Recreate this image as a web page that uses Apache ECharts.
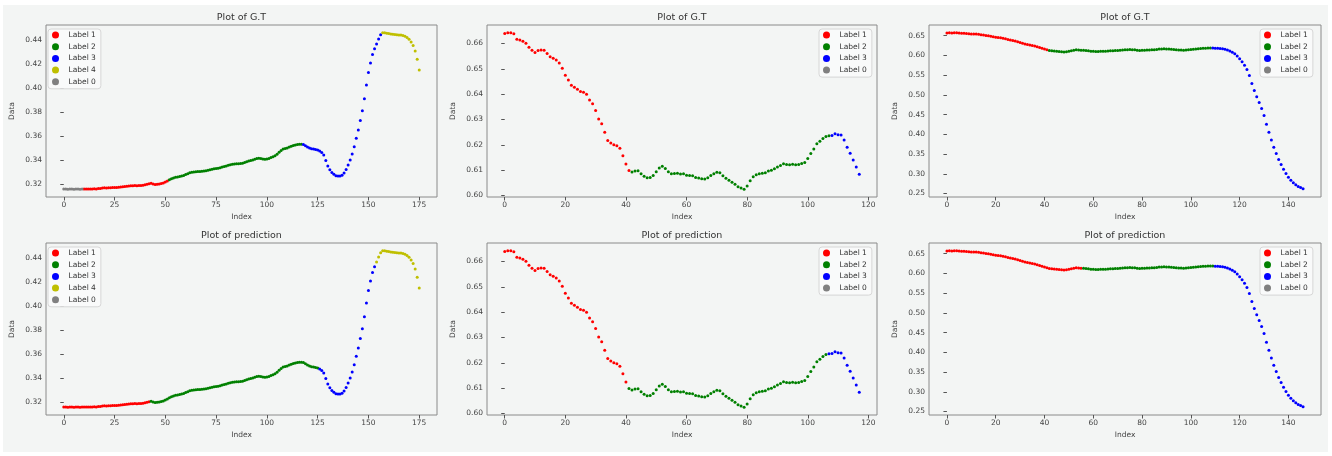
<!DOCTYPE html>
<html>
<head>
<meta charset="utf-8">
<script src="https://cdn.jsdelivr.net/npm/echarts@6/dist/echarts.min.js"></script>
<style>
html, body { margin: 0; padding: 0; background: #fff; }
#bg { position: absolute; left: 3px; top: 5px; width: 1325px; height: 447px; background: #f3f5f4; }
#main { position: absolute; left: 0; top: 0; width: 1332px; height: 456px; }
</style>
</head>
<body>
<div id="bg"></div>
<div id="main"></div>
<script>
// data of the three signals (same signal in G.T and prediction rows)
var valuesA = [
    0.3156, 0.3156, 0.3155, 0.3156, 0.3156, 0.3155, 0.3156, 0.3156, 0.3155, 0.3156,
    0.3156, 0.3156, 0.3157, 0.3156, 0.3157, 0.3158, 0.3157, 0.3160, 0.3162, 0.3165,
    0.3167, 0.3166, 0.3168, 0.3167, 0.3169, 0.3170, 0.3169, 0.3172, 0.3174, 0.3176,
    0.3177, 0.3179, 0.3181, 0.3183, 0.3184, 0.3186, 0.3185, 0.3186, 0.3187, 0.3189,
    0.3192, 0.3196, 0.3201, 0.3204, 0.3199, 0.3194, 0.3196, 0.3199, 0.3203, 0.3208,
    0.3215, 0.3224, 0.3235, 0.3242, 0.3248, 0.3254, 0.3258, 0.3262, 0.3266, 0.3270,
    0.3278, 0.3285, 0.3292, 0.3296, 0.3299, 0.3301, 0.3302, 0.3304, 0.3305, 0.3307,
    0.3310, 0.3314, 0.3318, 0.3322, 0.3325, 0.3328, 0.3331, 0.3335, 0.3340, 0.3345,
    0.3350, 0.3355, 0.3359, 0.3363, 0.3366, 0.3367, 0.3368, 0.3369, 0.3372, 0.3378,
    0.3385, 0.3390, 0.3395, 0.3400, 0.3405, 0.3411, 0.3414, 0.3412, 0.3408, 0.3406,
    0.3407, 0.3412, 0.3420, 0.3427, 0.3434, 0.3448, 0.3463, 0.3478, 0.3490, 0.3496,
    0.3500, 0.3508, 0.3514, 0.3520, 0.3525, 0.3528, 0.3530, 0.3530, 0.3528, 0.3518,
    0.3508, 0.3500, 0.3494, 0.3490, 0.3487, 0.3482, 0.3474, 0.3462, 0.3440, 0.3395,
    0.3350, 0.3318, 0.3295, 0.3280, 0.3268, 0.3265, 0.3266, 0.3272, 0.3290, 0.3320,
    0.3358, 0.3400, 0.3450, 0.3510, 0.3580, 0.3650, 0.3730, 0.3810, 0.3910, 0.4025,
    0.4130, 0.4210, 0.4280, 0.4328, 0.4368, 0.4410, 0.4445, 0.4462, 0.4462, 0.4458,
    0.4455, 0.4452, 0.4450, 0.4447, 0.4445, 0.4444, 0.4443, 0.4440, 0.4433, 0.4422,
    0.4408, 0.4385, 0.4355, 0.4310, 0.4240, 0.4152
];
var valuesB = [
    0.6639, 0.6642, 0.6642, 0.6638, 0.6617, 0.6614, 0.6609, 0.6601, 0.6585, 0.6573,
    0.6564, 0.6572, 0.6574, 0.6573, 0.6560, 0.6548, 0.6542, 0.6535, 0.6523, 0.6502,
    0.6475, 0.6456, 0.6435, 0.6427, 0.6419, 0.6410, 0.6408, 0.6400, 0.6377, 0.6362,
    0.6335, 0.6302, 0.6283, 0.6250, 0.6217, 0.6207, 0.6200, 0.6196, 0.6186, 0.6157,
    0.6124, 0.6099, 0.6093, 0.6097, 0.6098, 0.6086, 0.6076, 0.6070, 0.6071, 0.6079,
    0.6094, 0.6108, 0.6115, 0.6107, 0.6094, 0.6086, 0.6087, 0.6088, 0.6085, 0.6086,
    0.6080, 0.6079, 0.6078, 0.6071, 0.6069, 0.6066, 0.6065, 0.6070, 0.6079, 0.6086,
    0.6092, 0.6090, 0.6078, 0.6068, 0.6060, 0.6052, 0.6044, 0.6034, 0.6030, 0.6025,
    0.6037, 0.6058, 0.6074, 0.6082, 0.6086, 0.6088, 0.6090, 0.6097, 0.6100, 0.6106,
    0.6112, 0.6118, 0.6125, 0.6122, 0.6121, 0.6123, 0.6121, 0.6122, 0.6126, 0.6130,
    0.6146, 0.6166, 0.6183, 0.6204, 0.6214, 0.6225, 0.6233, 0.6236, 0.6237, 0.6244,
    0.6240, 0.6239, 0.6219, 0.6190, 0.6167, 0.6140, 0.6112, 0.6084
];
var valuesC = [
    0.6570, 0.6571, 0.6570, 0.6572, 0.6571, 0.6568, 0.6562, 0.6558, 0.6553, 0.6548,
    0.6545, 0.6542, 0.6540, 0.6533, 0.6525, 0.6517, 0.6505, 0.6495, 0.6482, 0.6470,
    0.6462, 0.6455, 0.6445, 0.6432, 0.6420, 0.6405, 0.6392, 0.6380, 0.6362, 0.6345,
    0.6325, 0.6305, 0.6290, 0.6278, 0.6265, 0.6250, 0.6235, 0.6220, 0.6200, 0.6180,
    0.6160, 0.6140, 0.6125, 0.6118, 0.6112, 0.6105, 0.6098, 0.6092, 0.6088, 0.6090,
    0.6102, 0.6118, 0.6132, 0.6140, 0.6138, 0.6132, 0.6128, 0.6122, 0.6115, 0.6108,
    0.6102, 0.6100, 0.6100, 0.6102, 0.6105, 0.6108, 0.6112, 0.6115, 0.6118, 0.6122,
    0.6125, 0.6130, 0.6135, 0.6140, 0.6145, 0.6148, 0.6145, 0.6140, 0.6132, 0.6125,
    0.6128, 0.6132, 0.6135, 0.6138, 0.6140, 0.6145, 0.6152, 0.6160, 0.6165, 0.6168,
    0.6165, 0.6162, 0.6158, 0.6150, 0.6142, 0.6138, 0.6135, 0.6132, 0.6135, 0.6140,
    0.6148, 0.6155, 0.6162, 0.6170, 0.6175, 0.6180, 0.6182, 0.6185, 0.6188, 0.6185,
    0.6180, 0.6178, 0.6175, 0.6168, 0.6155, 0.6135, 0.6110, 0.6080, 0.6040, 0.5985,
    0.5915, 0.5840, 0.5750, 0.5640, 0.5490, 0.5290, 0.5110, 0.4950, 0.4805, 0.4655,
    0.4480, 0.4258, 0.4052, 0.3855, 0.3670, 0.3515, 0.3360, 0.3235, 0.3115, 0.3010,
    0.2915, 0.2835, 0.2770, 0.2720, 0.2680, 0.2650, 0.2620
];

// label runs: [label, first index, last index]
var runsAGt = [[0, 0, 9], [1, 10, 51], [2, 52, 117], [3, 118, 156], [4, 157, 175]];
var runsAPred = [[1, 0, 42], [2, 43, 125], [3, 126, 153], [4, 154, 175]];
var runsBGt = [[1, 0, 41], [2, 42, 107], [3, 108, 117]];
var runsBPred = [[1, 0, 40], [2, 41, 106], [3, 107, 117]];
var runsCGt = [[1, 0, 41], [2, 42, 108], [3, 109, 146]];
var runsCPred = [[1, 0, 55], [2, 56, 109], [3, 110, 146]];

// tick labels
var ticksAX = [0, 25, 50, 75, 100, 125, 150, 175];
var ticksAY = [0.32, 0.34, 0.36, 0.38, 0.40, 0.42, 0.44];
var ticksBX = [0, 20, 40, 60, 80, 100, 120];
var ticksBY = [0.60, 0.61, 0.62, 0.63, 0.64, 0.65, 0.66];
var ticksCX = [0, 20, 40, 60, 80, 100, 120, 140];
var ticksCY = [0.25, 0.30, 0.35, 0.40, 0.45, 0.50, 0.55, 0.60, 0.65];

var legendA = [1, 2, 3, 4, 0];
var legendBC = [1, 2, 3, 0];

var labelColor = { 0: '#808080', 1: '#ff0000', 2: '#008000', 3: '#0000ff', 4: '#bfbf00' };
var font = 'DejaVu Sans';

var panels = [
    { title: 'Plot of G.T', values: valuesA, runs: runsAGt, legend: legendA, xr: [-8.75, 183.75], yr: [0.3090, 0.4527], xt: ticksAX, yt: ticksAY, left: 46, top: 25, width: 391, lgLeft: 48 },
    { title: 'Plot of G.T', values: valuesB, runs: runsBGt, legend: legendBC, xr: [-5.85, 122.85], yr: [0.5994, 0.6673], xt: ticksBX, yt: ticksBY, left: 487, top: 25, width: 390, lgLeft: 819 },
    { title: 'Plot of G.T', values: valuesC, runs: runsCGt, legend: legendBC, xr: [-7.35, 153.35], yr: [0.2412, 0.6770], xt: ticksCX, yt: ticksCY, left: 929, top: 25, width: 392, lgLeft: 1260 },
    { title: 'Plot of prediction', values: valuesA, runs: runsAPred, legend: legendA, xr: [-8.75, 183.75], yr: [0.3090, 0.4527], xt: ticksAX, yt: ticksAY, left: 46, top: 243, width: 391, lgLeft: 48 },
    { title: 'Plot of prediction', values: valuesB, runs: runsBPred, legend: legendBC, xr: [-5.85, 122.85], yr: [0.5994, 0.6673], xt: ticksBX, yt: ticksBY, left: 487, top: 243, width: 390, lgLeft: 819 },
    { title: 'Plot of prediction', values: valuesC, runs: runsCPred, legend: legendBC, xr: [-7.35, 153.35], yr: [0.2412, 0.6770], xt: ticksCX, yt: ticksCY, left: 929, top: 243, width: 392, lgLeft: 1260 }
];

var plotHeight = 172;

var titles = [], grids = [], xAxes = [], yAxes = [], legends = [], series = [];

panels.forEach(function (p, i) {
    titles.push({
        text: p.title,
        left: p.left + p.width / 2,
        top: p.top - 12,
        textAlign: 'center',
        padding: 0,
        textStyle: { fontFamily: font, fontSize: 9.5, fontWeight: 'normal', color: '#333' }
    });
    grids.push({
        left: p.left, top: p.top, width: p.width, height: plotHeight,
        show: true, borderColor: '#8a8a8a', borderWidth: 1, backgroundColor: 'transparent'
    });
    xAxes.push({
        type: 'value', gridIndex: i, min: p.xr[0], max: p.xr[1],
        name: 'Index', nameLocation: 'middle', nameGap: 16,
        nameTextStyle: { fontFamily: font, fontSize: 7.5, color: '#444' },
        axisLine: { show: false },
        splitLine: { show: false },
        axisTick: { show: true, length: 3.5, customValues: p.xt, lineStyle: { color: '#555' } },
        axisLabel: { customValues: p.xt, fontFamily: font, fontSize: 7.5, color: '#444', margin: 4, hideOverlap: false }
    });
    yAxes.push({
        type: 'value', gridIndex: i, min: p.yr[0], max: p.yr[1],
        name: 'Data', nameLocation: 'middle', nameGap: 30,
        nameTextStyle: { fontFamily: font, fontSize: 7.5, color: '#444' },
        axisLine: { show: false },
        splitLine: { show: false },
        axisTick: { show: true, length: 3.5, customValues: p.yt, lineStyle: { color: '#555' } },
        axisLabel: {
            customValues: p.yt, fontFamily: font, fontSize: 7.5, color: '#444', margin: 4,
            hideOverlap: false,
            formatter: function (v) { return v.toFixed(2); }
        }
    });
    legends.push({
        data: p.legend.map(function (l) { return 'Label ' + l; }),
        orient: 'vertical',
        left: p.lgLeft,
        top: p.top + 4,
        icon: 'circle',
        itemWidth: 16,
        itemHeight: 7,
        itemGap: 3.7,
        padding: [2, 5, 3, 4],
        backgroundColor: '#f9fafa',
        borderColor: '#d6d6d6',
        borderWidth: 1,
        borderRadius: 3,
        selectedMode: false,
        textStyle: { fontFamily: font, fontSize: 7.5, color: '#333', lineHeight: 8 }
    });
    p.legend.forEach(function (l) {
        var pts = [];
        p.runs.forEach(function (r) {
            if (r[0] !== l) return;
            for (var k = r[1]; k <= r[2]; k++) pts.push([k, p.values[k]]);
        });
        series.push({
            name: 'Label ' + l,
            type: 'scatter',
            xAxisIndex: i,
            yAxisIndex: i,
            data: pts,
            symbolSize: 3,
            itemStyle: { color: labelColor[l], opacity: 1 },
            silent: true
        });
    });
});

var myChart = echarts.init(document.getElementById('main'));
myChart.setOption({
    animation: false,
    title: titles,
    grid: grids,
    xAxis: xAxes,
    yAxis: yAxes,
    legend: legends,
    series: series
});
</script>
</body>
</html>
